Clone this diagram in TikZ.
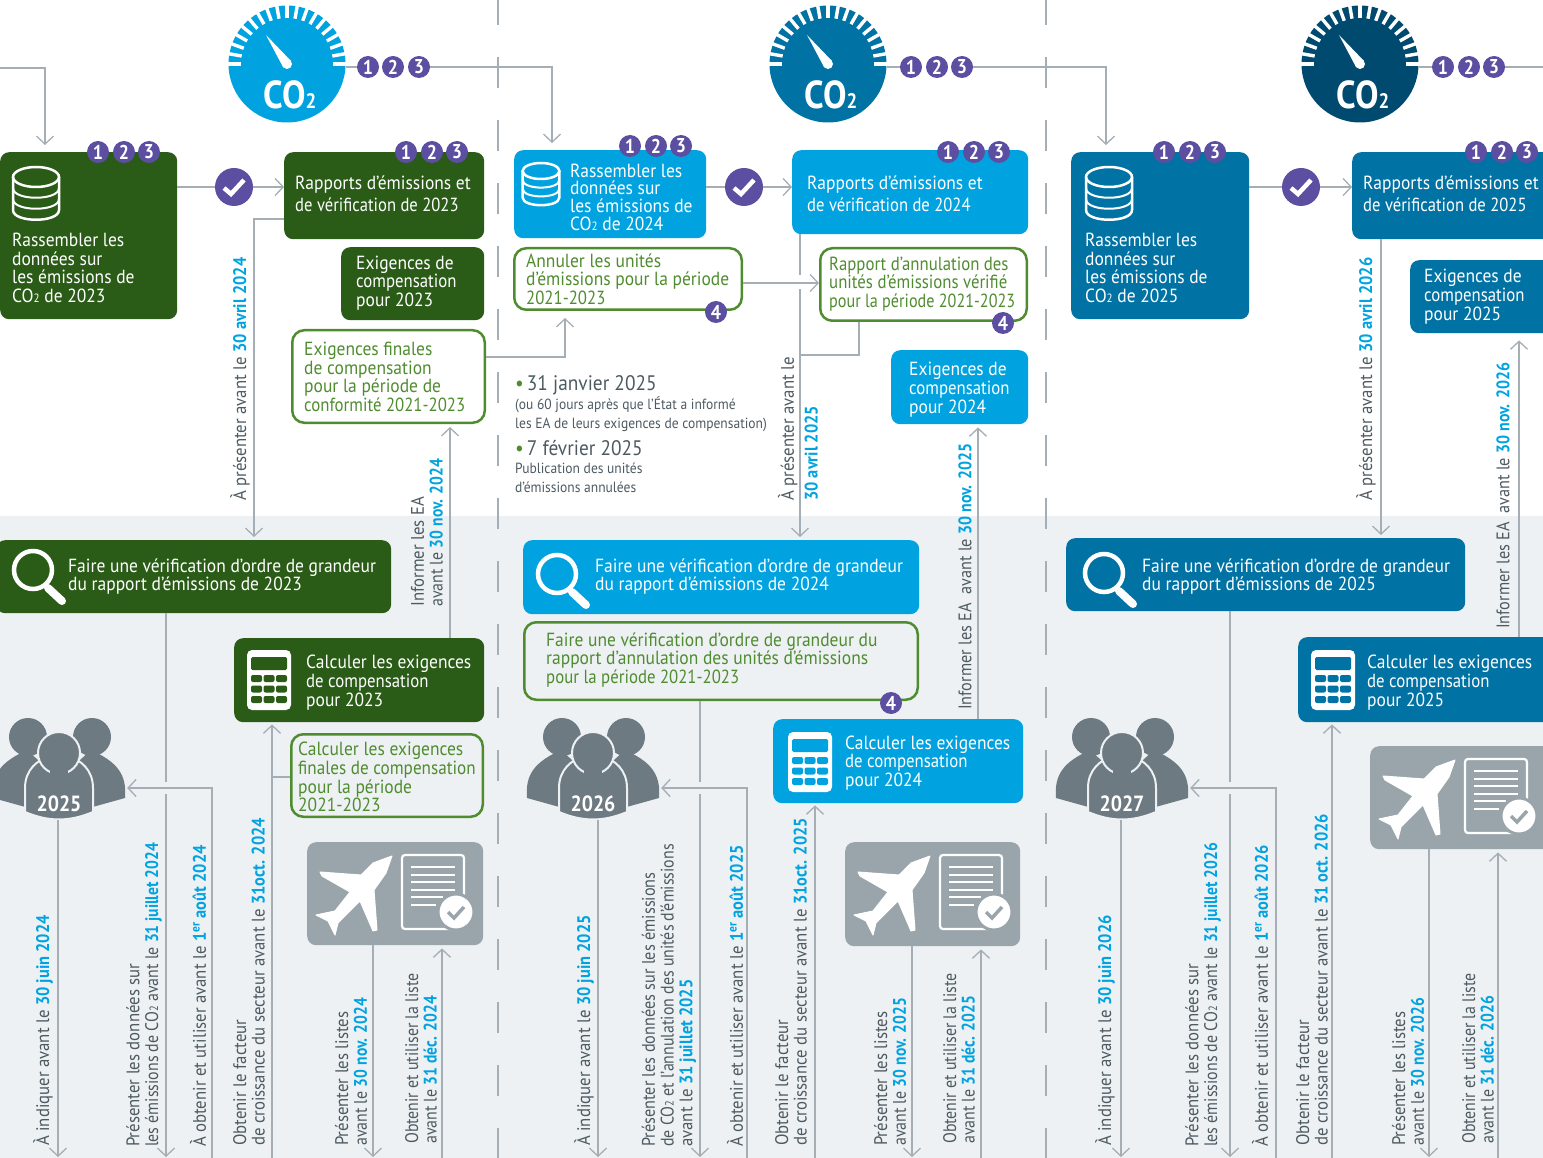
\documentclass[tikz,border=0pt]{standalone}
\usepackage{fontspec}
\setmainfont[FakeStretch=0.92,BoldFeatures={FakeStretch=0.9}]{PT Sans}
\usetikzlibrary{arrows.meta}

\definecolor{bggrey}{HTML}{EEF1F3}
\definecolor{linegrey}{HTML}{A5AEB5}
\definecolor{textgrey}{HTML}{4D5A61}
\definecolor{darkgreen}{HTML}{2A5C17}
\definecolor{linegreen}{HTML}{4F8C2F}
\definecolor{skyblue}{HTML}{00A3E0}
\definecolor{deepblue}{HTML}{0072A3}
\definecolor{navyblue}{HTML}{004A70}
\definecolor{badgepurple}{HTML}{5C4EA0}
\definecolor{planegrey}{HTML}{9AA5AB}
\definecolor{peoplegrey}{HTML}{6D7A82}

\newcommand{\dt}[1]{{\bfseries\color{skyblue}#1}}
\newcommand{\cotwo}{CO\raisebox{0pt}{\fontsize{12}{12}\selectfont 2}}
\newcommand{\squeeze}[2]{\scalebox{#1}[1]{#2}}

\newcommand{\badges}[5]{
    \node[badge] (#1a) at (#2,#5) {1};
    \node[badge] (#1b) at (#3,#5) {2};
    \node[badge] (#1c) at (#4,#5) {3};
}

\newcommand{\gauge}[4]{
    \node[circle,fill=#4,minimum size=117pt,inner sep=0pt] (#1) at (#2,#3) {};
    \begin{scope}[shift={(#2,#3)}]
        \foreach \a in {0,10,...,180}
            \draw[white,line width=3.4pt] (-\a:46) -- (-\a:60);
        \fill[white] (-21,-29) -- (4,-3) -- (-4,3) -- cycle;
        \fill[white] (0,0) circle (5);
        \node[white,inner sep=0pt,font=\fontsize{39}{39}\selectfont\bfseries] at (3,31) {CO\raisebox{0pt}{\fontsize{21}{21}\selectfont 2}};
    \end{scope}
}

\newcommand{\checkdot}[3]{
    \node[circle,fill=badgepurple,minimum size=38pt,inner sep=0pt] (#1) at (#2,#3) {};
    \draw[white,line width=4.5pt] ([shift={(-10,1)}]#1.center) -- ([shift={(-3,7)}]#1.center) -- ([shift={(10,-7)}]#1.center);
}

\newcommand{\dbicon}[3]{
    \begin{scope}[shift={(#1,#2)},scale=#3]
        \draw[white,line width=2.5pt] (0,0) ellipse [x radius=23,y radius=10];
        \draw[white,line width=2.5pt] (-23,0) -- (-23,33) .. controls (-23,46) and (23,46) .. (23,33) -- (23,0);
        \draw[white,line width=2pt] (-23,11) .. controls (-23,24) and (23,24) .. (23,11);
        \draw[white,line width=2pt] (-23,22) .. controls (-23,35) and (23,35) .. (23,22);
    \end{scope}
}

\newcommand{\loupe}[2]{
    \begin{scope}[shift={(#1,#2)}]
        \draw[white,line width=4.5pt] (0,0) circle (19);
        \draw[white,line width=8pt,line cap=round] (15,18) -- (29,31);
    \end{scope}
}

\newcommand{\calcicon}[3]{
    \begin{scope}[shift={(#1,#2)}]
        \fill[white,rounded corners=5pt] (0,0) rectangle (44,60);
        \fill[#3,rounded corners=1.5pt] (4,7) rectangle (40,20);
        \foreach \ky in {25,35.5,46}
            \foreach \kx in {4,16.5,29}
                \fill[#3,rounded corners=2pt] (\kx,\ky) rectangle ++(11,7);
    \end{scope}
}

\newcommand{\planedoc}[2]{
    \begin{scope}[shift={(#1,#2)}]
        \fill[white,draw=white,line width=1pt,line join=round] (85,14) -- (66,21) -- (54,33) -- (13,30) -- (15,34) -- (43,50)
            -- (28,69) -- (9,73) -- (21,79) -- (28,93) -- (31,81) -- (53,59) -- (66,89) -- (70,88)
            -- (67,48) -- (79,31) -- cycle;
        \draw[white,line width=2.2pt,rounded corners=3pt] (95,13) rectangle (157,87);
        \foreach \ly in {25,32.7,40.3,47.7}
            \draw[white,line width=2pt] (104,\ly) -- (148,\ly);
        \draw[white,line width=2pt] (104,55) -- (136,55);
        \draw[white,line width=2pt] (104,62.7) -- (129,62.7);
        \fill[white,draw=planegrey,line width=3pt] (149,70) circle (18);
        \draw[planegrey,line width=3.5pt] (141,70) -- (147,76) -- (157,65);
    \end{scope}
}

\newcommand{\people}[3]{
    \node[minimum width=136pt,minimum height=100pt,inner sep=0pt] (#1) at (#2,770) {};
    \begin{scope}[shift={(#2,820)}]
        \fill[peoplegrey] (-66,-22) .. controls (-68,-46) and (-58,-58) .. (-32,-70) -- (-10,-50) -- (-30,-12) -- cycle;
        \fill[peoplegrey] (66,-22) .. controls (68,-46) and (58,-58) .. (32,-70) -- (10,-50) -- (30,-12) -- cycle;
        \fill[peoplegrey] (-31,-83) circle (19);
        \fill[peoplegrey] (33,-83) circle (19);
        \fill[peoplegrey,draw=bggrey,line width=2pt] (-34,-8) -- (-34,-32) .. controls (-34,-50) and (-22,-60) .. (-9,-64)
            -- (9,-64) .. controls (22,-60) and (34,-50) .. (34,-32) -- (34,-8) .. controls (10,2) and (-10,2) .. (-34,-8) -- cycle;
        \fill[peoplegrey,draw=bggrey,line width=2pt] (0,-67) circle (21);
        \fill[peoplegrey] (-9,-58) rectangle (9,-42);
        \node[white,inner sep=0pt,font=\fontsize{22}{22}\selectfont\bfseries] at (0,-16) {#3};
    \end{scope}
}

\begin{document}
\begin{tikzpicture}[x=1pt,y=-1pt,>={Straight Barb[length=8pt,width=17pt]}]
    \tikzstyle{box} = [anchor=north west,rounded corners=9pt,inner sep=0pt];
    \tikzstyle{greenbox} = [box,fill=darkgreen];
    \tikzstyle{bluebox} = [box,fill=skyblue];
    \tikzstyle{deepbox} = [box,fill=deepblue];
    \tikzstyle{planebox} = [box,fill=planegrey];
    \tikzstyle{linebox} = [box,draw=linegreen,line width=2.5pt,rounded corners=12pt];
    \tikzstyle{boxtext} = [anchor=west,align=left,inner sep=0pt,white,font=\fontsize{19}{18.7}\selectfont];
    \tikzstyle{greentext} = [boxtext,linegreen];
    \tikzstyle{greytext} = [anchor=west,align=left,inner sep=0pt,textgrey,font=\fontsize{14.7}{19}\selectfont];
    \tikzstyle{datetext} = [anchor=west,align=left,inner sep=0pt,textgrey,font=\fontsize{21}{21}\selectfont];
    \tikzstyle{uptext} = [anchor=west,align=left,inner sep=0pt,rotate=90,textgrey,font=\fontsize{18.2}{18.7}\selectfont];
    \tikzstyle{badge} = [circle,fill=badgepurple,text=white,minimum size=22pt,inner sep=0pt,font=\fontsize{20}{20}\selectfont\bfseries];
    \tikzstyle{link} = [draw=linegrey,line width=1.3pt];
    \tikzstyle{split} = [draw=linegrey,line width=1.3pt,dash pattern=on 31pt off 32pt];

    \useasboundingbox (0,0) rectangle (1543,1158);
    \clip (0,0) rectangle (1543,1158);

    \fill[bggrey] (0,516) rectangle (1543,1158);
    \coordinate (splitA) at (498,-6);
    \coordinate (splitB) at (1046,-6);
    \coordinate (floor) at (0,1158);
    \draw[split] (splitA) -- (splitA |- floor);
    \draw[split] (splitB) -- (splitB |- floor);

    \gauge{gaugeA}{287}{64}{skyblue}
    \gauge{gaugeB}{828}{64}{deepblue}
    \gauge{gaugeC}{1360}{64}{navyblue}

    \node[greenbox,minimum width=177pt,minimum height=167pt] (collectA) at (0,152) {};
    \node[greenbox,minimum width=200pt,minimum height=87pt] (reportA) at (284,152) {};
    \node[greenbox,minimum width=143pt,minimum height=73pt] (offsetA) at (341,247) {};
    \node[linebox,minimum width=192.5pt,minimum height=92.5pt] (finalA) at (291,329) {};
    \node[greenbox,minimum width=395pt,minimum height=73pt] (checkA) at (-4,540) {};
    \node[greenbox,minimum width=250pt,minimum height=84pt] (calcA) at (234,638) {};
    \node[linebox,minimum width=191.5pt,minimum height=82.5pt] (calcfinal) at (290,733) {};
    \node[planebox,minimum width=176pt,minimum height=103pt] (planeA) at (307,842) {};

    \node[bluebox,minimum width=192pt,minimum height=88pt] (collectB) at (514,150) {};
    \node[bluebox,minimum width=236pt,minimum height=84pt] (reportB) at (792,150) {};
    \node[linebox,minimum width=227.5pt,minimum height=61.5pt] (cancel) at (513,247) {};
    \node[linebox,minimum width=206.5pt,minimum height=72.5pt] (cancelrep) at (819,247) {};
    \node[bluebox,minimum width=137pt,minimum height=74pt] (offsetB) at (891,350) {};
    \node[bluebox,minimum width=396pt,minimum height=74pt] (checkB) at (523,540) {};
    \node[linebox,minimum width=393.5pt,minimum height=77.5pt] (checkcancel) at (523,621) {};
    \node[bluebox,minimum width=250pt,minimum height=84pt] (calcB) at (773,719) {};
    \node[planebox,minimum width=175pt,minimum height=104pt] (planeB) at (845,842) {};

    \node[deepbox,minimum width=178pt,minimum height=167pt] (collectC) at (1071,152) {};
    \node[deepbox,minimum width=210pt,minimum height=87pt] (reportC) at (1352,152) {};
    \node[deepbox,minimum width=160pt,minimum height=73pt] (offsetC) at (1410,260) {};
    \node[deepbox,minimum width=399pt,minimum height=73pt] (checkC) at (1066,538) {};
    \node[deepbox,minimum width=265pt,minimum height=85pt] (calcC) at (1298,637) {};
    \node[planebox,minimum width=190pt,minimum height=103pt] (planeC) at (1370,746) {};

    \people{peopleA}{59}{2025}
    \people{peopleB}{593}{2026}
    \people{peopleC}{1122}{2027}

    \dbicon{36}{177}{1}
    \dbicon{541}{171}{0.8}
    \dbicon{1109}{177}{1}
    \loupe{33}{570}
    \loupe{557}{574}
    \loupe{1104}{573}
    \calcicon{247}{650}{darkgreen}
    \calcicon{788}{732}{skyblue}
    \calcicon{1311}{650}{deepblue}
    \planedoc{307}{842}
    \planedoc{845}{842}
    \planedoc{1370}{746}

    \node[boxtext] (collectAt) at (12,268) {Rassembler les\\données sur\\les émissions de\\\cotwo{} de 2023};
    \node[boxtext] (reportAt) at (295,194) {Rapports d’émissions et\\[3.5pt]\squeeze{0.95}{de vérification de 2023}};
    \node[boxtext] (offsetAt) at (356,283) {Exigences de\\\squeeze{0.96}{compensation}\\pour 2023};
    \node[greentext] (finalAt) at (304,377) {Exigences finales\\de compensation\\pour la période de\\\squeeze{0.96}{conformité 2021-2023}};
    \node[boxtext] (checkAt) at (68,576.5) {Faire une vérification d’ordre de grandeur\\du rapport d’émissions de 2023};
    \node[boxtext] (calcAt) at (306,682.5) {Calculer les exigences\\\squeeze{0.96}{de compensation}\\pour 2023};
    \node[greentext] (calcfinalt) at (298,777) {Calculer les exigences\\\squeeze{0.98}{finales de compensation}\\pour la période\\2021-2023};

    \node[boxtext] (collectBt) at (570,197) {Rassembler les\\[-1pt]données sur\\[-1pt]les émissions de\\[-1pt]\cotwo{} de 2024};
    \node[boxtext] (reportBt) at (807,194) {Rapports d’émissions et\\[3.5pt]\squeeze{0.95}{de vérification de 2024}};
    \node[greentext] (cancelt) at (526,279) {Annuler les unités\\d’émissions pour la période\\\squeeze{0.96}{2021-2023}};
    \node[greentext] (cancelrept) at (829,284) {\squeeze{0.96}{Rapport d’annulation des}\\\squeeze{0.96}{unités d’émissions vérifié}\\\squeeze{0.925}{pour la période 2021-2023}};
    \node[boxtext] (offsetBt) at (909,389.5) {Exigences de\\\squeeze{0.96}{compensation}\\pour 2024};
    \node[boxtext] (checkBt) at (595,576.5) {Faire une vérification d’ordre de grandeur\\du rapport d’émissions de 2024};
    \node[greentext] (checkcancelt) at (546,660) {Faire une vérification d’ordre de grandeur du\\rapport d’annulation des unités d’émissions\\\squeeze{0.96}{pour la période 2021-2023}};
    \node[boxtext] (calcBt) at (845,763) {Calculer les exigences\\\squeeze{0.96}{de compensation}\\pour 2024};

    \node[boxtext] (collectCt) at (1085,268) {Rassembler les\\données sur\\les émissions de\\\cotwo{} de 2025};
    \node[boxtext] (reportCt) at (1363,194) {Rapports d’émissions et\\[3.5pt]\squeeze{0.95}{de vérification de 2025}};
    \node[boxtext] (offsetCt) at (1424,296.5) {Exigences de\\\squeeze{0.96}{compensation}\\pour 2025};
    \node[boxtext] (checkCt) at (1142,576.5) {Faire une vérification d’ordre de grandeur\\du rapport d’émissions de 2025};
    \node[boxtext] (calcCt) at (1367,682.5) {Calculer les exigences\\\squeeze{0.96}{de compensation}\\pour 2025};

    \node[datetext] (dateA) at (515,385.5) {{\color{linegreen}\textbullet}\hspace{3pt}31 janvier 2025};
    \node[greytext] (dateAt) at (515,414) {(ou 60 jours après que l’État a informé\\les EA de leurs exigences de compensation)};
    \node[datetext] (dateB) at (515,448) {{\color{linegreen}\textbullet}\hspace{3pt}7 février 2025};
    \node[greytext] (dateBt) at (515,478) {Publication des unités\\d’émissions annulées};

    \node[uptext] (sendA) at (240,501) {À présenter avant le \dt{30 avril 2024}};
    \node[uptext] (tellA) at (427,607) {Informer les EA\\\squeeze{0.95}{avant le \dt{30 nov. 2024}}};
    \node[uptext] (declA) at (43,1146) {À indiquer avant le \dt{30 juin 2024}};
    \node[uptext] (dataA) at (144,1147) {Présenter les données sur\\\squeeze{0.95}{les émissions de \cotwo{} avant le \dt{31 juillet 2024}}};
    \node[uptext] (useA) at (198,1147) {À obtenir et utiliser avant le \dt{1\textsuperscript{er} août 2024}};
    \node[uptext] (growthA) at (249,1146) {Obtenir le facteur\\de croissance du secteur avant le \dt{31oct. 2024}};
    \node[uptext] (listA) at (351,1146) {Présenter les listes\\\squeeze{0.95}{avant le \dt{30 nov. 2024}}};
    \node[uptext] (getA) at (421,1144) {\squeeze{0.95}{Obtenir et utiliser la liste}\\\squeeze{0.95}{avant le \dt{31 déc. 2024}}};

    \node[uptext] (sendB) at (798,501) {À présenter avant le\\[5pt]\dt{30 avril 2025}};
    \node[uptext] (tellB) at (965,710) {\squeeze{0.97}{Informer les EA ~avant le \dt{30 nov. 2025}}};
    \node[uptext] (declB) at (584,1146) {À indiquer avant le \dt{30 juin 2025}};
    \node[uptext] (dataB) at (669,1147) {\squeeze{0.97}{Présenter les données sur les émissions}\\\squeeze{0.95}{de \cotwo{} et l’annulation des unités d’émissions}\\avant le \dt{31 juillet 2025}};
    \node[uptext] (useB) at (735,1147) {À obtenir et utiliser avant le \dt{1\textsuperscript{er} août 2025}};
    \node[uptext] (growthB) at (791,1146) {Obtenir le facteur\\de croissance du secteur avant le \dt{31oct. 2025}};
    \node[uptext] (listB) at (890,1146) {Présenter les listes\\\squeeze{0.95}{avant le \dt{30 nov. 2025}}};
    \node[uptext] (getB) at (959,1144) {\squeeze{0.95}{Obtenir et utiliser la liste}\\\squeeze{0.95}{avant le \dt{31 déc. 2025}}};

    \node[uptext] (sendC) at (1366,501) {À présenter avant le \dt{30 avril 2026}};
    \node[uptext] (tellC) at (1503,629) {\squeeze{0.97}{Informer les EA ~avant le \dt{30 nov. 2026}}};
    \node[uptext] (declC) at (1105,1146) {À indiquer avant le \dt{30 juin 2026}};
    \node[uptext] (dataC) at (1203,1147) {Présenter les données sur\\\squeeze{0.95}{les émissions de \cotwo{} avant le \dt{31 juillet 2026}}};
    \node[uptext] (useC) at (1260,1147) {À obtenir et utiliser avant le \dt{1\textsuperscript{er} août 2026}};
    \node[uptext] (growthC) at (1312,1146) {Obtenir le facteur\\de croissance du secteur avant le \dt{31 oct. 2026}};
    \node[uptext] (listC) at (1408,1146) {Présenter les listes\\\squeeze{0.95}{avant le \dt{30 nov. 2026}}};
    \node[uptext] (getC) at (1478,1144) {\squeeze{0.95}{Obtenir et utiliser la liste}\\\squeeze{0.95}{avant le \dt{31 déc. 2026}}};

    \checkdot{okA}{234}{187}
    \checkdot{okB}{744}{187}
    \checkdot{okC}{1301}{187}

    \badges{gaugeAb}{368}{393}{419}{67}
    \badges{gaugeBb}{911}{937}{962}{67}
    \badges{gaugeCb}{1443}{1469}{1494}{67}
    \badges{collectAb}{98}{124}{149}{152}
    \badges{reportAb}{406}{432}{457}{152}
    \badges{collectBb}{630}{656}{681}{146}
    \badges{reportBb}{948}{974}{999}{152}
    \badges{collectCb}{1164}{1190}{1215}{152}
    \badges{reportCb}{1476}{1502}{1527}{152}
    \node[badge] (cancelb) at (716,312) {4};
    \node[badge] (cancelrepb) at (1003,323) {4};
    \node[badge] (checkcancelb) at (891,703) {4};

    \coordinate (startA) at (0,68);
    \coordinate (dropA) at (45,68);
    \coordinate (dropB) at (552,68);
    \coordinate (dropC) at (1106,68);
    \coordinate (endC) at (1543,68);
    \draw[link,->,shorten >=7pt] (startA) -- (dropA) -- (dropA |- collectA.north);
    \draw[link] (gaugeA.east |- gaugeAba) -- (gaugeAba);
    \draw[link,->,shorten >=7pt] (gaugeAbc) -- (gaugeAbc -| dropB) -- (dropB |- collectB.north);
    \draw[link] (gaugeB.east |- gaugeBba) -- (gaugeBba);
    \draw[link,->,shorten >=7pt] (gaugeBbc) -- (gaugeBbc -| dropC) -- (dropC |- collectC.north);
    \draw[link] (gaugeC.east |- gaugeCba) -- (gaugeCba);
    \draw[link] (gaugeCbc) -- (gaugeCbc -| endC);

    \draw[link] (collectA.east |- okA) -- (okA);
    \draw[link,->] (okA) -- (okA -| reportA.west);
    \draw[link] (collectB.east |- okB) -- (okB);
    \draw[link,->] (okB) -- (okB -| reportB.west);
    \draw[link] (collectC.east |- okC) -- (okC);
    \draw[link,->] (okC) -- (okC -| reportC.west);

    \coordinate (sendAc) at (254,219);
    \coordinate (sendCc) at (1381,219);
    \coordinate (sendBc) at (800,355);
    \coordinate (crossB) at (800,283);
    \coordinate (tellAc) at (450,500);
    \coordinate (tellBc) at (978,500);
    \coordinate (tellCc) at (1519,500);
    \coordinate (upcancel) at (565,357);
    \coordinate (offcancel) at (859,355);
    \draw[link,->,shorten >=3pt] (reportA.west |- sendAc) -- (sendAc) -- (sendAc |- checkA.north);
    \draw[link,->,shorten >=3pt] (sendCc |- reportC.south) -- (sendCc |- checkC.north);
    \draw[link] (sendBc |- reportB.south) -- ([yshift=8pt]crossB);
    \draw[link,->,shorten >=3pt] ([yshift=-6pt]crossB) -- (sendBc |- checkB.north);
    \draw[link,->] (cancel.east |- crossB) -- (crossB -| cancelrep.west);
    \draw[link] (offcancel |- cancelrep.south) -- (offcancel) -- (sendBc);
    \draw[link,->,shorten >=7pt] (finalA.east |- upcancel) -- (upcancel) -- (upcancel |- cancel.south);
    \draw[link,->,shorten >=3pt] (tellAc |- calcA.north) -- (tellAc |- finalA.south);
    \draw[link,->,shorten >=3pt] (tellBc |- calcB.north) -- (tellBc |- offsetB.south);
    \draw[link,->,shorten >=7pt] (tellCc |- calcC.north) -- (tellCc |- offsetC.south);

    \coordinate (footA) at (58,1157);
    \coordinate (footB) at (166,1157);
    \coordinate (footC) at (212,1158);
    \coordinate (turnA) at (212,788);
    \coordinate (footD) at (272,1158);
    \coordinate (footE) at (373,1157);
    \coordinate (footF) at (442,1158);
    \draw[link,->] (footA |- peopleA.south) -- (footA);
    \draw[link] (footB |- checkA.south) -- ([yshift=6pt]footB |- turnA);
    \draw[link,->] ([yshift=-6pt]footB |- turnA) -- (footB);
    \draw[link,->] (footC) -- (turnA) -- (turnA -| peopleA.east);
    \draw[link,->,shorten >=2pt] (footD) -- (footD |- calcA.south);
    \draw[link] (calcfinal.west |- calcfinalt) -- (footD |- calcfinalt);
    \draw[link,->] (footE |- planeA.south) -- (footE);
    \draw[link,->,shorten >=3pt] (footF) -- (footF |- planeA.south);

    \coordinate (footG) at (598,1157);
    \coordinate (footH) at (700,1157);
    \coordinate (footI) at (747,1158);
    \coordinate (turnB) at (747,788);
    \coordinate (footJ) at (815,1158);
    \coordinate (footK) at (912,1157);
    \coordinate (footL) at (981,1158);
    \draw[link,->] (footG |- peopleB.south) -- (footG);
    \draw[link] (footH |- checkcancel.south) -- ([yshift=6pt]footH |- turnB);
    \draw[link,->] ([yshift=-6pt]footH |- turnB) -- (footH);
    \draw[link,->] (footI) -- (turnB) -- (turnB -| peopleB.east);
    \draw[link,->,shorten >=2pt] (footJ) -- (footJ |- calcB.south);
    \draw[link,->] (footK |- planeB.south) -- (footK);
    \draw[link,->,shorten >=3pt] (footL) -- (footL |- planeB.south);

    \coordinate (footM) at (1121,1157);
    \coordinate (footN) at (1230,1157);
    \coordinate (footO) at (1276,1158);
    \coordinate (turnC) at (1276,788);
    \coordinate (footP) at (1332,1158);
    \coordinate (footQ) at (1429,1157);
    \coordinate (footR) at (1498,1158);
    \draw[link,->] (footM |- peopleC.south) -- (footM);
    \draw[link] (footN |- checkC.south) -- ([yshift=6pt]footN |- turnC);
    \draw[link,->] ([yshift=-6pt]footN |- turnC) -- (footN);
    \draw[link,->] (footO) -- (turnC) -- (turnC -| peopleC.east);
    \draw[link,->,shorten >=2pt] (footP) -- (footP |- calcC.south);
    \draw[link,->] (footQ |- planeC.south) -- (footQ);
    \draw[link,->,shorten >=3pt] (footR) -- (footR |- planeC.south);
\end{tikzpicture}
\end{document}
